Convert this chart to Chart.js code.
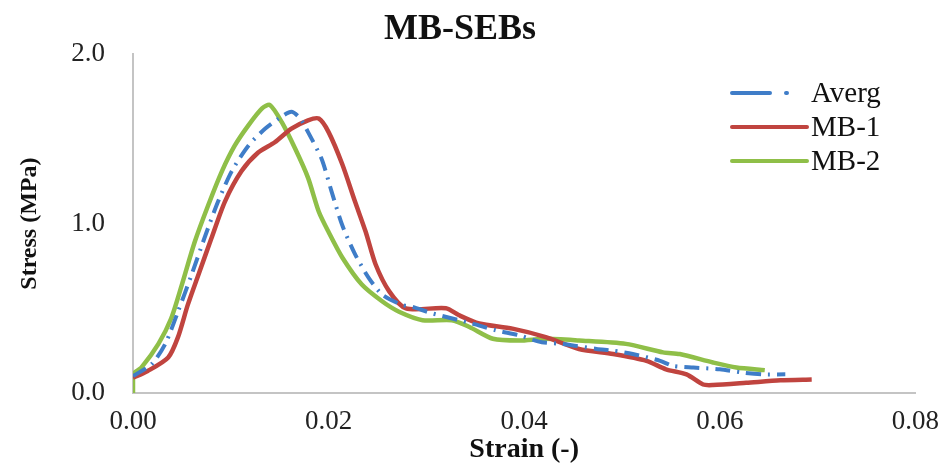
<!DOCTYPE html>
<html>
<head>
<meta charset="utf-8">
<script src="https://cdn.jsdelivr.net/npm/chart.js@4/dist/chart.umd.min.js"></script>
<style>
    html, body { margin: 0; padding: 0; background: #ffffff; }
    #wrap { width: 952px; height: 467px; }
</style>
</head>
<body>
<div id="wrap"><canvas id="stressChart" width="952" height="467"></canvas></div>
<script>
// Stress-strain curves for the MB-SEBs specimens
const avgStrain = [0, 0.0019, 0.0033, 0.0046, 0.0060, 0.0074, 0.0087, 0.0101, 0.0118, 0.0135, 0.0149, 0.0162, 0.0171, 0.0179, 0.0193, 0.0203, 0.0214, 0.0227, 0.0241, 0.0255, 0.0275, 0.0285, 0.0306, 0.0347, 0.0371, 0.0395, 0.0418, 0.0439, 0.0474, 0.0491, 0.0511, 0.0539, 0.0552, 0.0573, 0.0600, 0.0624, 0.0644, 0.0667];
const avgStress = [0.10, 0.17, 0.29, 0.48, 0.70, 0.93, 1.13, 1.31, 1.46, 1.56, 1.62, 1.66, 1.62, 1.54, 1.38, 1.19, 0.99, 0.82, 0.68, 0.58, 0.52, 0.51, 0.47, 0.41, 0.37, 0.34, 0.30, 0.29, 0.26, 0.25, 0.23, 0.19, 0.16, 0.15, 0.14, 0.12, 0.11, 0.11];

const mb1Strain = [0, 0.0015, 0.0036, 0.0046, 0.0056, 0.0067, 0.0080, 0.0094, 0.0111, 0.0128, 0.0145, 0.0162, 0.0179, 0.0190, 0.0200, 0.0214, 0.0227, 0.0238, 0.0248, 0.0262, 0.0279, 0.0320, 0.0333, 0.0354, 0.0388, 0.0422, 0.0456, 0.0491, 0.0525, 0.0545, 0.0566, 0.0583, 0.0593, 0.0627, 0.0662, 0.0694];
const mb1Stress = [0.09, 0.13, 0.21, 0.33, 0.52, 0.70, 0.91, 1.13, 1.31, 1.42, 1.48, 1.56, 1.61, 1.62, 1.54, 1.35, 1.13, 0.95, 0.76, 0.60, 0.50, 0.50, 0.46, 0.41, 0.38, 0.33, 0.26, 0.23, 0.19, 0.14, 0.11, 0.05, 0.047, 0.06, 0.075, 0.08];

const mb2Strain = [0, 0, 0.00085, 0.0026, 0.0039, 0.0050, 0.0063, 0.0077, 0.0091, 0.0104, 0.0118, 0.0132, 0.0140, 0.0152, 0.0166, 0.0179, 0.0190, 0.0200, 0.0214, 0.0234, 0.0255, 0.0272, 0.0296, 0.0326, 0.0344, 0.0368, 0.0395, 0.0422, 0.0456, 0.0504, 0.0542, 0.0559, 0.0593, 0.0617, 0.0646];
const mb2Stress = [0, 0.11, 0.15, 0.29, 0.44, 0.64, 0.89, 1.11, 1.31, 1.46, 1.58, 1.68, 1.70, 1.60, 1.44, 1.27, 1.07, 0.95, 0.80, 0.64, 0.54, 0.48, 0.43, 0.43, 0.39, 0.32, 0.31, 0.32, 0.31, 0.29, 0.24, 0.23, 0.18, 0.15, 0.135];

const xTicks = [0, 0.02, 0.04, 0.06, 0.08];
const yTicks = [0, 1, 2];

const serif = "'Liberation Serif', 'Times New Roman', serif";

function toPoints(xs, ys) {
    return xs.map((x, i) => ({ x: x, y: ys[i] }));
}

// Legend drawn inside the plot, upper right
const insideLegend = {
    id: 'insideLegend',
    afterDatasetsDraw(chart) {
        const ctx = chart.ctx;
        const x0 = 732, x1 = 807, top = 93, rowGap = 34;
        ctx.save();
        chart.data.datasets.forEach((ds, i) => {
            const y = top + i * rowGap;
            ctx.beginPath();
            ctx.strokeStyle = ds.borderColor;
            ctx.lineWidth = 4;
            ctx.lineCap = 'round';
            ctx.setLineDash(ds.borderDash ? [38, 16, 1, 40] : []);
            ctx.moveTo(x0, y);
            ctx.lineTo(x1, y);
            ctx.stroke();
            ctx.setLineDash([]);
            ctx.fillStyle = '#111';
            ctx.font = '29px ' + serif;
            ctx.textBaseline = 'middle';
            ctx.textAlign = 'left';
            ctx.fillText(ds.label, x1 + 4, y + 1);
        });
        ctx.restore();
    }
};

new Chart(document.getElementById('stressChart'), {
    type: 'line',
    data: {
        datasets: [
            {
                label: 'Averg',
                data: toPoints(avgStrain, avgStress),
                borderColor: '#3f7dc8',
                borderWidth: 4,
                borderDash: [15, 7, 2, 7],
                pointRadius: 0,
                tension: 0.25
            },
            {
                label: 'MB-1',
                data: toPoints(mb1Strain, mb1Stress),
                borderColor: '#c0443f',
                borderWidth: 4.5,
                pointRadius: 0,
                tension: 0.25
            },
            {
                label: 'MB-2',
                data: toPoints(mb2Strain, mb2Stress),
                borderColor: '#8fbf48',
                borderWidth: 4.5,
                pointRadius: 0,
                tension: 0.25
            }
        ]
    },
    options: {
        responsive: false,
        animation: false,
        layout: { padding: { left: 0, right: 32, top: 0, bottom: 0 } },
        plugins: {
            legend: { display: false },
            tooltip: { enabled: false },
            title: {
                display: true,
                text: 'MB-SEBs',
                color: '#111',
                font: { family: serif, size: 36, weight: 'bold' },
                padding: { top: 8, bottom: 3 }
            }
        },
        scales: {
            x: {
                type: 'linear',
                min: 0,
                max: 0.08,
                afterFit: scale => { scale.height = 74; },
                afterBuildTicks: scale => { scale.ticks = xTicks.map(v => ({ value: v })); },
                grid: { display: false, drawTicks: false },
                border: { display: true, color: '#c4c4c4', width: 2 },
                ticks: {
                    padding: 13,
                    color: '#222',
                    font: { family: serif, size: 27 },
                    callback: value => value.toFixed(2)
                },
                title: {
                    display: true,
                    text: 'Strain (-)',
                    color: '#111',
                    font: { family: serif, size: 28, weight: 'bold' },
                    padding: { top: 0, bottom: 0 }
                }
            },
            y: {
                min: 0,
                max: 2,
                afterFit: scale => { scale.width = 133; },
                afterBuildTicks: scale => { scale.ticks = yTicks.map(v => ({ value: v })); },
                grid: { display: false, drawTicks: false },
                border: { display: true, color: '#c4c4c4', width: 2 },
                ticks: {
                    padding: 28,
                    color: '#222',
                    font: { family: serif, size: 27 },
                    callback: value => value.toFixed(1)
                },
                title: {
                    display: true,
                    text: 'Stress (MPa)',
                    color: '#111',
                    font: { family: serif, size: 24, weight: 'bold' },
                    padding: { top: 15, bottom: 0 }
                }
            }
        }
    },
    plugins: [insideLegend]
});
</script>
</body>
</html>
